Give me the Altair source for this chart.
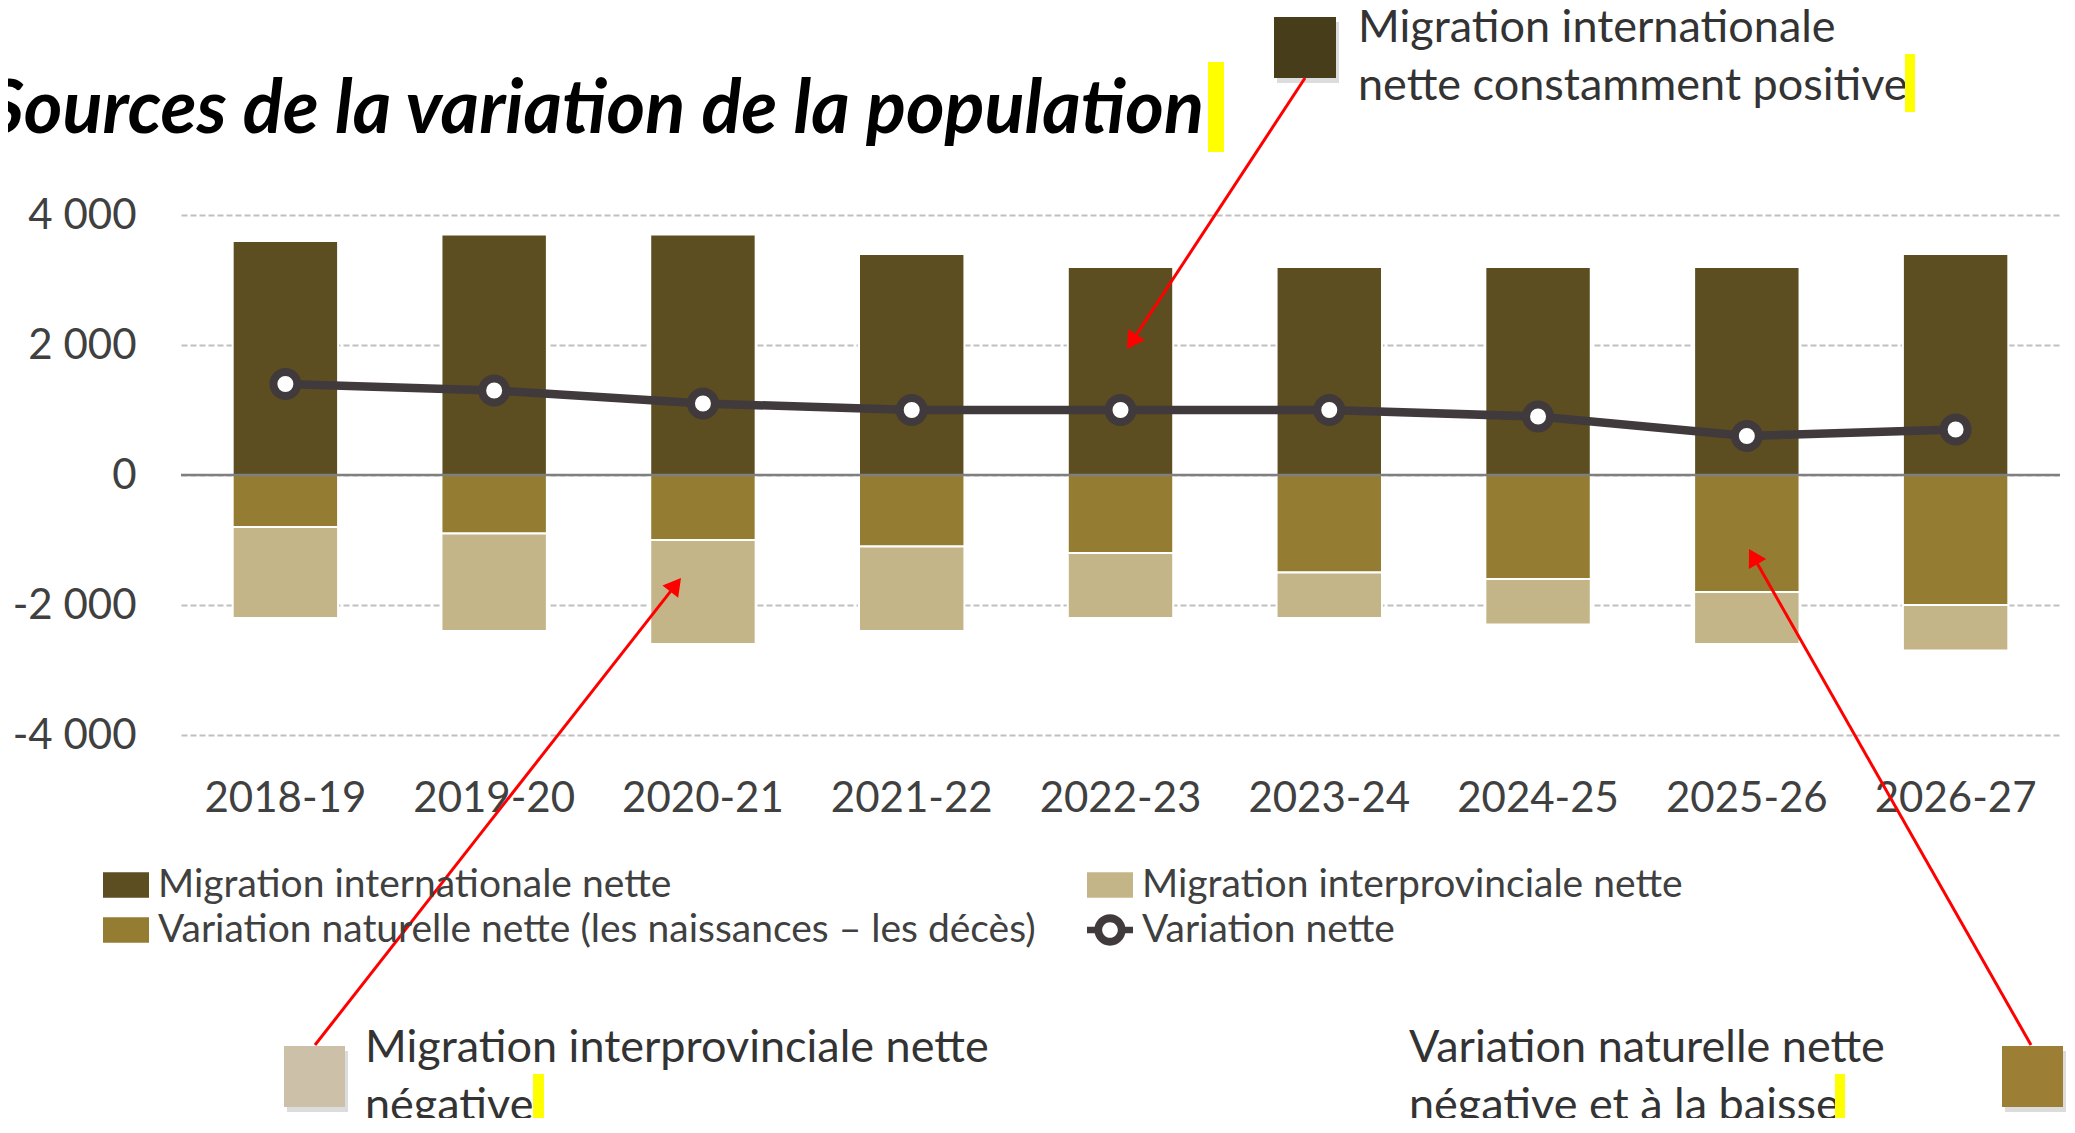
import math
import altair as alt
import pandas as pd

# ---------------- data ----------------
periods = ["2018-19", "2019-20", "2020-21", "2021-22", "2022-23",
           "2023-24", "2024-25", "2025-26", "2026-27"]
intl_vals = [3600, 3700, 3700, 3400, 3200, 3200, 3200, 3200, 3400]
natural_vals = [-800, -900, -1000, -1100, -1200, -1500, -1600, -1800, -2000]
interprov_vals = [-1400, -1500, -1600, -1300, -1000, -700, -700, -800, -700]
net_vals = [1400, 1300, 1100, 1000, 1000, 1000, 900, 600, 700]

series_names = [
    "Migration internationale nette",
    "Migration interprovinciale nette",
    "Variation naturelle nette (les naissances – les décès)",
    "Variation nette",
]
series_colors = ["#5C4E20", "#C4B589", "#947D32", "#403A3C"]
y_ticks = [-4000, -2000, 0, 2000, 4000]

title_text = "Sources de la variation de la population"
callout_intl = ["Migration internationale", "nette constamment positive"]
callout_interprov = ["Migration interprovinciale nette", "négative"]
callout_natural = ["Variation naturelle nette", "négative et à la baisse"]

FONT = "Lato"
TXT = "#404040"
LINE_COLOR = "#403A3C"

rows = []
for i, p in enumerate(periods):
    rows.append({"period": p, "series": series_names[0], "value": intl_vals[i], "order": 0})
    rows.append({"period": p, "series": series_names[2], "value": natural_vals[i], "order": 1})
    rows.append({"period": p, "series": series_names[1], "value": interprov_vals[i], "order": 2})
bars_df = pd.DataFrame(rows)
net_df = pd.DataFrame({"period": periods, "value": net_vals, "series": series_names[3]})
one = pd.DataFrame({"k": [0]})

# ---------------- scales / axes / legend ----------------
rect_path = "M-1,-0.55H1V0.55H-1Z"
ring_path = ("M-0.68,0A0.68,0.68,0,1,1,0.68,0A0.68,0.68,0,1,1,-0.68,0Z"
             "M-0.34,0A0.34,0.34,0,1,0,0.34,0A0.34,0.34,0,1,0,-0.34,0Z"
             "M-1,-0.14H-0.6V0.14H-1Z M0.6,-0.14H1V0.14H0.6Z")
color_scale = alt.Scale(domain=series_names, range=series_colors)
shape_scale = alt.Scale(domain=series_names, range=[rect_path, rect_path, rect_path, ring_path])

legend = alt.Legend(
    title=None, orient="none", legendX=-78, legendY=647, columns=2, direction="horizontal",
    labelFont=FONT, labelFontSize=39, labelColor=TXT, labelLimit=2000,
    labelOffset=9, symbolSize=2116, symbolStrokeWidth=0, symbolOpacity=1,
    columnPadding=51, rowPadding=2,
)

x_axis = alt.Axis(title=None, labelAngle=0, labelFont=FONT, labelFontSize=42,
                  labelColor=TXT, labelPadding=43, ticks=False, domain=False, grid=False)
y_axis = alt.Axis(
    title=None, values=y_ticks,
    labelExpr="(datum.value < 0 ? '-' : '') + replace(format(abs(datum.value), ','), ',', ' ')",
    labelFont=FONT, labelFontSize=42, labelColor=TXT, labelPadding=45,
    ticks=False, domain=False, grid=True, gridColor="#C0C0C0", gridDash=[6, 3], gridWidth=2,
)
x_scale = alt.Scale(paddingInner=0.495, paddingOuter=0.2475)
y_scale = alt.Scale(domain=[-4000, 4000], nice=False)

X = alt.X("period:N", sort=periods, scale=x_scale, axis=x_axis)
Y = alt.Y("value:Q", scale=y_scale, axis=y_axis, stack=None)

bars = alt.Chart(bars_df).mark_bar(stroke="white", strokeWidth=2).encode(
    x=X,
    y=alt.Y("value:Q", scale=y_scale, axis=y_axis, stack="zero"),
    color=alt.Color("series:N", scale=color_scale, legend=legend),
    order=alt.Order("order:Q", sort="ascending"),
)
zero = alt.Chart(one).mark_rule(color="#7F7F7F", strokeWidth=2.5).encode(y=alt.datum(0))
line = alt.Chart(net_df).mark_line(color=LINE_COLOR, strokeWidth=8.5).encode(x=X, y=Y)
# carries the "Variation nette" legend entry (shape + colour); drawn invisibly
legend_carrier = alt.Chart(net_df).mark_point(filled=True, opacity=0).encode(
    x=X, y=Y,
    color=alt.Color("series:N", scale=color_scale, legend=legend),
    shape=alt.Shape("series:N", scale=shape_scale, legend=legend),
)
points = alt.Chart(net_df).mark_point(
    filled=False, fill="white", color=LINE_COLOR, shape="circle",
    size=576, strokeWidth=8, opacity=1, fillOpacity=1).encode(x=X, y=Y)

# ---------------- annotations (pixel positions relative to plot origin) ----------------
def rect(x1, y1, x2, y2, color, opacity=1.0):
    return alt.Chart(one).mark_rect(color=color, opacity=opacity).encode(
        x=alt.value(x1), x2=alt.value(x2), y=alt.value(y1), y2=alt.value(y2))

def box(x1, y1, x2, y2, color):
    return [rect(x1 + 3, y1 + 5, x2 + 3, y2 + 5, "#9A9A9A", 0.35), rect(x1, y1, x2, y2, color)]

def text(x, y, lines, size=45):
    return alt.Chart(one).mark_text(
        text=lines, align="left", baseline="alphabetic", font=FONT, fontSize=size,
        lineHeight=57.6, color="#333333").encode(x=alt.value(x), y=alt.value(y))

def arrow(x1, y1, x2, y2, r=10):
    dx, dy = x2 - x1, y2 - y1
    L = math.hypot(dx, dy)
    ux, uy = dx / L, dy / L
    h = math.sqrt(3) / 2 * r
    cx, cy = x2 - ux * h, y2 - uy * h
    ang = math.degrees(math.atan2(dx, -dy)) % 360
    ln = alt.Chart(one).mark_rule(color="#FF0000", strokeWidth=3).encode(
        x=alt.value(x1), y=alt.value(y1), x2=alt.value(cx), y2=alt.value(cy))
    head = alt.Chart(one).mark_point(shape="triangle-up", filled=True, color="#FF0000",
                                     size=(2 * r) ** 2, angle=ang, opacity=1).encode(
        x=alt.value(cx), y=alt.value(cy))
    return [ln, head]

title = alt.Chart(one).mark_text(
    text=title_text, align="right", baseline="alphabetic", font=FONT, fontSize=74,
    fontWeight="bold", fontStyle="italic", color="#000000").encode(
    x=alt.value(1023), y=alt.value(-82))

annot = []
annot.append(title)
annot.append(rect(1027, -153, 1043, -63, "#FFFF00"))
annot += box(1093, -198, 1155, -137, "#483D1B")
annot.append(text(1177, -173, callout_intl))
annot.append(rect(1724, -161, 1734, -103, "#FFFF00"))
annot += arrow(1124, -137, 946, 134)

annot += box(103, 831, 164, 892, "#CCC1A8")
annot.append(text(184, 847, callout_interprov))
annot.append(rect(352, 859, 363, 917, "#FFFF00"))
annot += arrow(134, 830, 500, 363)

annot += box(1821, 831, 1882, 892, "#9C7F35")
annot.append(text(1228, 847, callout_natural))
annot.append(rect(1654, 859, 1664, 917, "#FFFF00"))
annot += arrow(1850, 830, 1568, 334)

chart = alt.layer(bars, zero, line, legend_carrier, points, *annot).properties(
    width=1879, height=520,
    padding={"left": 173, "top": 207, "right": 7, "bottom": 383},
    autosize=alt.AutoSizeParams(type="none"),
    background="white",
).configure_view(strokeWidth=0)

chart.save("out.html", embed_options={"renderer": "svg", "actions": False})
